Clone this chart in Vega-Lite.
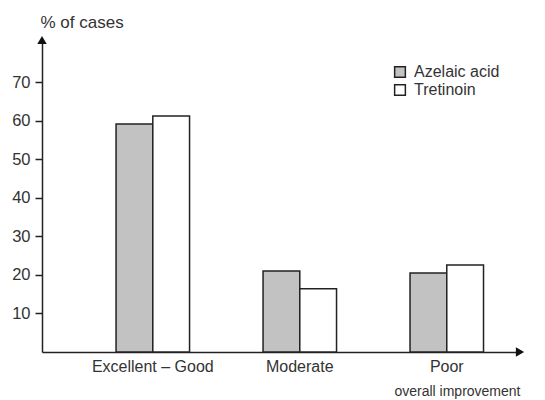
{
  "$schema": "https://vega.github.io/schema/vega-lite/v6.json",
  "autosize": "none",
  "width": 478,
  "height": 312,
  "padding": {"left": 42, "top": 40, "right": 25, "bottom": 48},
  "background": "white",
  "config": {
    "view": {"stroke": null},
    "font": "Liberation Sans",
    "axis": {"labelColor": "#333", "titleColor": "#333", "domainColor": "#222", "tickColor": "#222", "labelFont": "Liberation Sans", "titleFont": "Liberation Sans", "titleFontWeight": "normal"}
  },
  "datasets": {
    "bars": [
      {"outcome": "Excellent – Good", "drug": "Azelaic acid", "pct": 59.2},
      {"outcome": "Excellent – Good", "drug": "Tretinoin", "pct": 61.3},
      {"outcome": "Moderate", "drug": "Azelaic acid", "pct": 21.0},
      {"outcome": "Moderate", "drug": "Tretinoin", "pct": 16.4},
      {"outcome": "Poor", "drug": "Azelaic acid", "pct": 20.5},
      {"outcome": "Poor", "drug": "Tretinoin", "pct": 22.6}
    ],
    "arrows": [
      {"axis": "y"}
    ]
  },
  "layer": [
    {
      "data": {"name": "bars"},
      "mark": {"type": "bar", "stroke": "#222", "strokeWidth": 1.5},
      "encoding": {
        "x": {
          "field": "outcome", "type": "nominal", "sort": null,
          "scale": {"paddingInner": 0.5, "paddingOuter": 0.376, "align": 0.67},
          "axis": {
            "title": "overall improvement", "titleAnchor": "end", "titleAlign": "right", "titleFontSize": 14, "titlePadding": 10.5,
            "labelAngle": 0, "ticks": false, "labelPadding": 6, "labelFontSize": 16, "domainWidth": 1.5
          }
        },
        "xOffset": {"field": "drug", "type": "nominal", "sort": ["Azelaic acid", "Tretinoin"]},
        "y": {
          "field": "pct", "type": "quantitative",
          "scale": {"domain": [0, 81], "nice": false},
          "axis": {
            "title": "% of cases", "titleAngle": 0, "titleAlign": "left", "titleBaseline": "alphabetic", "titleX": -2, "titleY": -13, "titleFontSize": 17,
            "values": [10, 20, 30, 40, 50, 60, 70], "grid": false, "tickSize": 7, "tickWidth": 1.5, "labelPadding": 5, "labelFontSize": 16.5, "domainWidth": 1.5
          }
        },
        "fill": {
          "field": "drug", "type": "nominal",
          "scale": {"domain": ["Azelaic acid", "Tretinoin"], "range": ["#c2c2c2", "#ffffff"]},
          "legend": {
            "title": null, "orient": "none", "legendX": 350, "legendY": 24,
            "symbolType": "square", "symbolSize": 115, "symbolStrokeColor": "#222", "symbolStrokeWidth": 1.5,
            "labelFontSize": 16, "labelColor": "#333", "rowPadding": 0, "labelOffset": 6
          }
        }
      }
    },
    {
      "data": {"name": "arrows"},
      "mark": {"type": "point", "shape": "triangle-up", "filled": true, "color": "#111", "size": 90, "opacity": 1},
      "encoding": {
        "x": {"value": 0},
        "y": {"datum": 81, "type": "quantitative"}
      }
    },
    {
      "data": {"name": "arrows"},
      "mark": {"type": "point", "shape": "triangle-right", "filled": true, "color": "#111", "size": 90, "opacity": 1},
      "encoding": {
        "x": {"value": 478},
        "y": {"datum": 0, "type": "quantitative"}
      }
    }
  ]
}
